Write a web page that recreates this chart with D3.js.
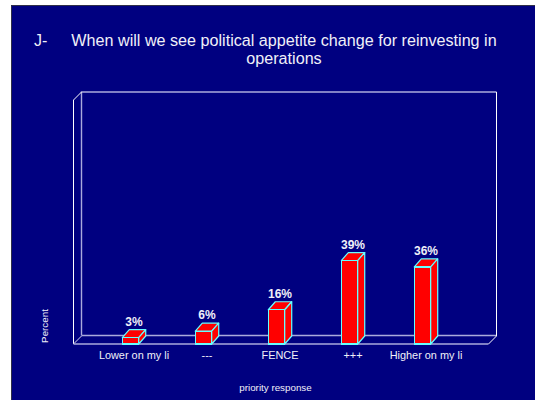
<!DOCTYPE html>
<html><head><meta charset="utf-8">
<script src="https://cdn.jsdelivr.net/npm/d3@7/dist/d3.min.js"></script>
<style>html,body{margin:0;padding:0;background:#fff;overflow:hidden}svg{display:block}text{font-family:"Liberation Sans",Arial,sans-serif;fill:#f0f0f8}</style>
</head><body><div id="c"></div>
<script>
const categories=["Lower on my li","---","FENCE","+++","Higher on my li"];
const percentValues=[3,6,16,39,36];
const titleLines=["When will we see political appetite change for reinvesting in","operations"];
const titlePrefix="J-";
const yLabel="Percent";
const xLabel="priority response";

const svg=d3.select("#c").append("svg").attr("width",535).attr("height",400);
svg.append("rect").attr("x",11).attr("y",5).attr("width",524).attr("height",395).attr("fill","#000080");
svg.append("path").attr("d","M11.5,400V5.5H535").attr("fill","none").attr("stroke","#303048");

const x0=73.5,x1=488.5,y0=344,yTop=100,dx=8,dy=8,bdx=7;
const x=d3.scaleBand().domain(categories).range([94,459]).paddingInner(0.775).paddingOuter(0.3875);
const y=d3.scaleLinear().domain([0,114]).range([y0,yTop]);

const grey="#aaaadc";
const g=svg.append("g").attr("fill","none");
g.append("path").attr("d",`M${x0+dx},${y0-dy-0.5}V${yTop-dy}H${x1+dx}`).attr("stroke",grey).attr("stroke-width",1.4);
g.append("path").attr("d",`M${x0+dx},${y0-dy-0.5}H${x1+dx}`).attr("stroke",grey).attr("stroke-width",1.4);
g.append("path").attr("d",`M${x0},${y0}V${yTop}L${x0+dx},${yTop-dy}`).attr("stroke","#fff");
g.append("path").attr("d",`M${x1},${y0}L${x1+dx},${y0-dy}V${yTop-dy}`).attr("stroke","#fff");
g.append("path").attr("d",`M${x0},${y0}L${x0+dx},${y0-dy}`).attr("stroke","#d8d8f0");
g.append("path").attr("d",`M${x0},${y0}H${x1}`).attr("stroke",grey).attr("stroke-width",1.4);

const rows=categories.map((c,i)=>({c,v:percentValues[i]}));
const bars=svg.selectAll("g.bar").data(rows).join("g").attr("class","bar")
 .attr("fill","#ff0000").attr("stroke","#66ffff").attr("stroke-width",1.2).attr("stroke-linejoin","round");
const w=x.bandwidth();
bars.append("path").attr("d",d=>{const l=x(d.c),t=y(d.v);return `M${l},${t}l${bdx},${-dy}h${w}l${-bdx},${dy}Z`});
bars.append("path").attr("d",d=>{const r=x(d.c)+w,t=y(d.v);return `M${r},${t}l${bdx},${-dy}V${y0-dy}L${r},${y0}Z`});
bars.append("rect").attr("x",d=>x(d.c)).attr("y",d=>y(d.v)).attr("width",w).attr("height",d=>y0-y(d.v)).attr("shape-rendering","crispEdges");

const cx=d=>x(d)+w/2+3.5;
svg.selectAll("text.val").data(rows).join("text").attr("class","val")
 .attr("x",d=>cx(d.c)).attr("y",d=>y(d.v)-12).attr("text-anchor","middle").attr("font-size",12).attr("font-weight","bold").text(d=>d.v+"%");
svg.selectAll("text.cat").data(categories).join("text").attr("class","cat")
 .attr("x",d=>cx(d)).attr("y",359).attr("text-anchor","middle").attr("font-size",10.9).text(d=>d);

svg.append("text").attr("x",34).attr("y",46).attr("font-size",16).text(titlePrefix);
svg.selectAll("text.title").data(titleLines).join("text").attr("class","title")
 .attr("x",284).attr("y",(d,i)=>46+i*18).attr("text-anchor","middle").attr("font-size",16.15).text(d=>d);
svg.append("text").attr("transform","translate(48,326) rotate(-90)").attr("text-anchor","middle").attr("font-size",9.8).text(yLabel);
svg.append("text").attr("x",275.5).attr("y",391).attr("text-anchor","middle").attr("font-size",9.8).text(xLabel);
</script></body></html>
